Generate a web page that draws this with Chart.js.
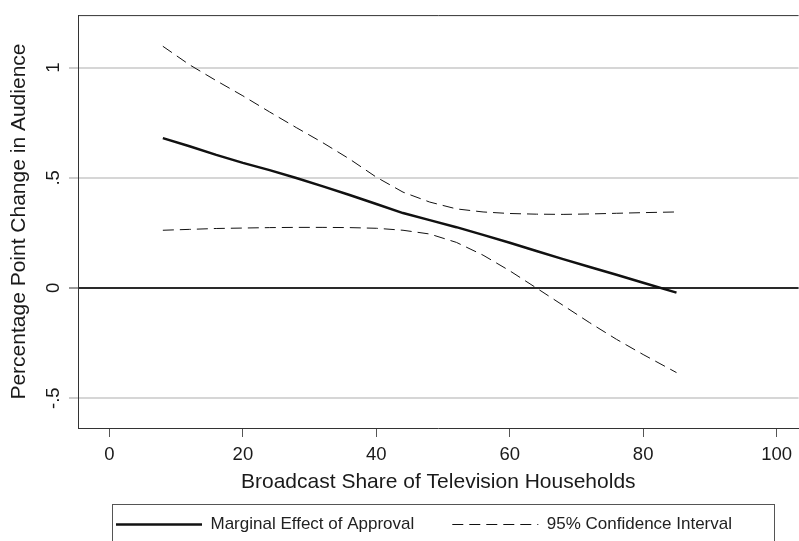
<!DOCTYPE html>
<html>
<head>
<meta charset="utf-8">
<script src="https://cdn.jsdelivr.net/npm/chart.js@4.4.1/dist/chart.umd.min.js"></script>
<style>
  html, body { margin: 0; padding: 0; background: #fff; }
  canvas { display: block; }
</style>
</head>
<body>
<canvas id="c" width="799" height="541"></canvas>
<script>
// ---- data ----
const shareValues = [8, 12, 16, 20, 24, 28, 32, 36, 40, 44, 48, 52, 56, 60, 64, 68, 72, 76, 80, 85];
const marginalEffect = [0.680, 0.643, 0.604, 0.568, 0.535, 0.499, 0.461, 0.422, 0.381, 0.340, 0.308, 0.276, 0.241, 0.205, 0.168, 0.131, 0.095, 0.060, 0.024, -0.021];
const ciUpper = [1.097, 1.013, 0.941, 0.872, 0.799, 0.728, 0.659, 0.585, 0.503, 0.435, 0.390, 0.359, 0.345, 0.338, 0.335, 0.334, 0.336, 0.339, 0.342, 0.345];
const ciLower = [0.262, 0.266, 0.270, 0.272, 0.274, 0.275, 0.275, 0.274, 0.271, 0.262, 0.245, 0.207, 0.149, 0.078, 0.000, -0.079, -0.158, -0.233, -0.302, -0.384];
const xTickValues = [0, 20, 40, 60, 80, 100];
const yTickValues = [-0.5, 0, 0.5, 1];
const yTickLabels = ['-.5', '0', '.5', '1'];
const xTitle = 'Broadcast Share of Television Households';
const yTitle = 'Percentage Point Change in Audience';
const legendLabels = ['Marginal Effect of Approval', '95% Confidence Interval'];

const FONT = '"Liberation Sans", Arial, Helvetica, sans-serif';
const toPoints = (ys) => shareValues.map((x, i) => ({ x: x, y: ys[i] }));

const framePlugin = {
  id: 'frame',
  beforeDatasetsDraw(chart) {
    const { ctx, chartArea } = chart;
    ctx.save();
    ctx.strokeStyle = '#333';
    ctx.lineWidth = 1;
    ctx.beginPath();
    ctx.moveTo(chartArea.left, chartArea.top + 0.5);
    ctx.lineTo(chartArea.right, chartArea.top + 0.5);
    ctx.stroke();
    ctx.restore();
  },
  afterDraw(chart) {
    const { ctx } = chart;
    const lg = chart.legend;
    if (!lg || !lg.legendHitBoxes || !lg.legendHitBoxes.length) return;
    const hb = lg.legendHitBoxes[0];
    ctx.save();
    ctx.strokeStyle = '#555';
    ctx.lineWidth = 1;
    const left = Math.round(hb.left - 4) + 0.5;
    const top = Math.round(hb.top - 12) + 0.5;
    ctx.strokeRect(left, top, 774.5 - left, 60);
    ctx.restore();
  }
};

new Chart(document.getElementById('c'), {
  type: 'line',
  data: {
    datasets: [
      { label: legendLabels[0], data: toPoints(marginalEffect), borderColor: '#111', borderWidth: 2.5, pointRadius: 0, tension: 0 },
      { label: legendLabels[1], data: toPoints(ciUpper), borderColor: '#111', borderWidth: 1, borderDash: [11, 6], pointRadius: 0, tension: 0 },
      { label: legendLabels[1] + ' (lower)', data: toPoints(ciLower), borderColor: '#111', borderWidth: 1, borderDash: [11, 6], pointRadius: 0, tension: 0 }
    ]
  },
  options: {
    responsive: false,
    devicePixelRatio: 1,
    animation: false,
    layout: { padding: { top: 14, right: 0, left: 0, bottom: -2 } },
    plugins: {
      tooltip: { enabled: false },
      legend: {
        position: 'bottom',
        align: 'start',
        fullSize: false,
        labels: {
          font: { family: FONT, size: 17 },
          color: '#222',
          padding: 38,
          usePointStyle: true,
          pointStyleWidth: 86,
          generateLabels: () => [
            { text: legendLabels[0], strokeStyle: '#111', fillStyle: '#111', lineWidth: 2.5, lineDash: [], pointStyle: 'line', hidden: false, datasetIndex: 0, fontColor: '#222' },
            { text: legendLabels[1], strokeStyle: '#111', fillStyle: '#111', lineWidth: 1, lineDash: [11, 6], pointStyle: 'line', hidden: false, datasetIndex: 1, fontColor: '#222' }
          ]
        }
      }
    },
    scales: {
      x: {
        type: 'linear',
        min: -4.72,
        max: 103.3,
        afterBuildTicks: (s) => { s.ticks = xTickValues.map(v => ({ value: v })); },
        afterFit: (s) => { s.height = 50; },
        grid: { drawOnChartArea: false, drawTicks: true, tickLength: 9, tickColor: '#555', tickWidth: 1 },
        border: { display: true, color: '#333', width: 1 },
        ticks: {
          font: { family: FONT, size: 18.5 },
          color: '#1a1a1a',
          padding: 7,
          maxRotation: 0,
          autoSkip: false,
          callback: (v) => String(v)
        },
        title: {
          display: true,
          text: xTitle,
          font: { family: FONT, size: 21 },
          color: '#1a1a1a',
          padding: { top: 0, bottom: -17 }
        }
      },
      y: {
        type: 'linear',
        min: -0.6355,
        max: 1.2385,
        afterBuildTicks: (s) => { s.ticks = yTickValues.map(v => ({ value: v })); },
        afterFit: (s) => { s.width = 78; },
        grid: {
          drawOnChartArea: true,
          drawTicks: true,
          tickLength: 9,
          color: (c) => (c.tick && c.tick.value === 0 ? '#2a2a2a' : '#d6d6d6'),
          lineWidth: 2,
          tickColor: (c) => (c.tick && c.tick.value === 0 ? '#333' : '#999'),
          tickWidth: 1
        },
        border: { display: true, color: '#333', width: 1 },
        ticks: {
          font: { family: FONT, size: 18.5 },
          color: '#1a1a1a',
          padding: 4,
          minRotation: 90,
          maxRotation: 90,
          crossAlign: 'center',
          autoSkip: false,
          callback: (v) => {
            const i = yTickValues.indexOf(v);
            return i >= 0 ? yTickLabels[i] : '';
          }
        },
        title: {
          display: true,
          text: yTitle,
          font: { family: FONT, size: 21 },
          color: '#1a1a1a',
          padding: { top: 7, bottom: 0 }
        }
      }
    }
  },
  plugins: [framePlugin]
});
</script>
</body>
</html>
